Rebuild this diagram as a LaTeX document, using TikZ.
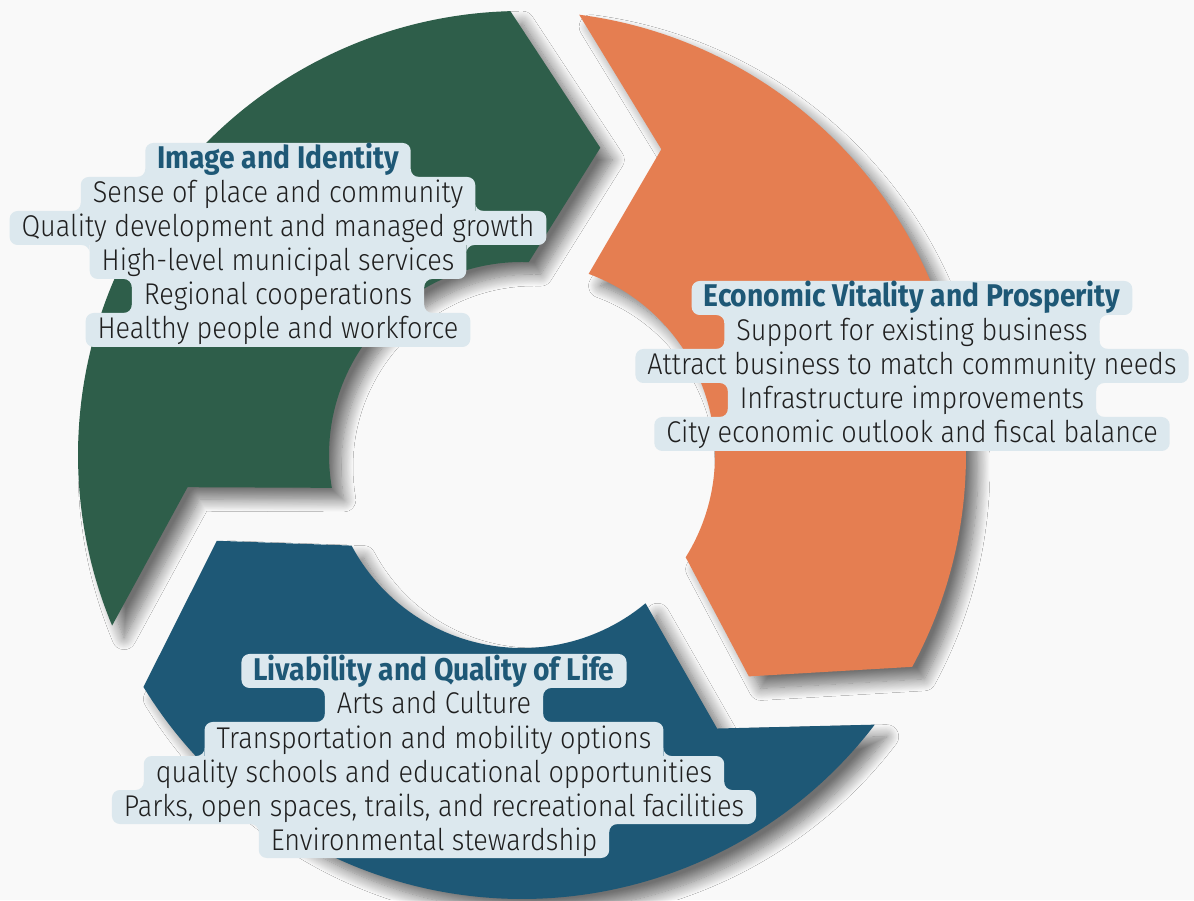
\documentclass[tikz,border=0pt]{standalone}
\usepackage{fontspec}
\IfFontExistsTF{Fira Sans Light}
  {\setmainfont{Fira Sans Light}[FakeStretch=0.9,BoldFont={Fira Sans Bold}]}
  {\setmainfont{Fira Sans}[FakeStretch=0.9]}
\usetikzlibrary{positioning,shadows.blur}

\definecolor{pagebg}{HTML}{F9F9F9}
\definecolor{idgreen}{HTML}{2E5E4A}
\definecolor{ecorange}{HTML}{E57E51}
\definecolor{livblue}{HTML}{1E5876}
\definecolor{tagfill}{HTML}{DCE8EE}
\definecolor{tagtitle}{HTML}{1E5876}

\tikzset{
  tag/.style={fill=tagfill, rounded corners=4pt, minimum height=17pt,
    inner xsep=6pt, inner ysep=0pt, outer sep=0pt,
    text height=12pt, text depth=3pt, text=black!88,
    font=\fontsize{15}{17}\selectfont},
  tagtop/.style={tag, text=tagtitle, font=\fontsize{15.7}{17}\selectfont\bfseries},
  arrowshadow/.style={blur shadow={shadow xshift=6pt, shadow yshift=-6pt,
    shadow blur radius=6pt, shadow blur steps=14, shadow opacity=55}}
}

\begin{document}
\begin{tikzpicture}[x=0.5pt,y=0.5pt]
\useasboundingbox (0,0) rectangle (1194,900);
\fill[pagebg] (0,0) rectangle (1194,900);

% the three bent arrows of the cycle
\begin{scope}[shift={(522,445)}]
\foreach \r/\c in {0/idgreen, 240/ecorange, 120/livblue}
  \fill[\c, arrowshadow] (202.6+\r:444)
    arc[start angle=202.6+\r, end angle=91.5+\r, radius=444]
    -- (75.7+\r:317) -- (88+\r:193)
    arc[start angle=88+\r, end angle=189.8+\r, radius=193]
    -- (185.5+\r:336) -- cycle;
\end{scope}

% image and identity
\node[tagtop] (identity) at (278,740) {Image and Identity};
\node[tag, below=0pt of identity] (identity1) {Sense of place and community};
\node[tag, below=0pt of identity1] (identity2) {Quality development and managed growth};
\node[tag, below=0pt of identity2] (identity3) {High-level municipal services};
\node[tag, below=0pt of identity3] (identity4) {Regional cooperations};
\node[tag, below=0pt of identity4] (identity5) {Healthy people and workforce};

% economic vitality
\node[tagtop] (economy) at (912,602) {Economic Vitality and Prosperity};
\node[tag, below=0pt of economy] (economy1) {Support for existing business};
\node[tag, below=0pt of economy1] (economy2) {Attract business to match community needs};
\node[tag, below=0pt of economy2] (economy3) {Infrastructure improvements};
\node[tag, below=0pt of economy3] (economy4) {City economic outlook and fiscal balance};

% livability
\node[tagtop] (livability) at (434,229) {Livability and Quality of Life};
\node[tag, below=0pt of livability] (livability1) {Arts and Culture};
\node[tag, below=0pt of livability1] (livability2) {Transportation and mobility options};
\node[tag, below=0pt of livability2] (livability3) {quality schools and educational opportunities};
\node[tag, below=0pt of livability3] (livability4) {Parks, open spaces, trails, and recreational facilities};
\node[tag, below=0pt of livability4] (livability5) {Environmental stewardship};

% inner fillets where a tag meets a wider one
\foreach \a/\b in {identity/identity1, identity1/identity2, identity4/identity5,
    economy1/economy2, economy3/economy4, livability1/livability2,
    livability2/livability3, livability3/livability4} {
  \fill[tagfill] (\a.south east) rectangle ++(-4pt,4pt);
  \fill[tagfill] (\a.south west) rectangle ++(4pt,4pt);
  \fill[tagfill] (\a.south east) -- ++(4pt,0) arc[start angle=270, end angle=180, radius=4pt] -- cycle;
  \fill[tagfill] (\a.south west) -- ++(-4pt,0) arc[start angle=270, end angle=360, radius=4pt] -- cycle;
}
\foreach \a/\b in {identity2/identity3, identity3/identity4, economy/economy1,
    economy2/economy3, livability/livability1, livability4/livability5} {
  \fill[tagfill] (\b.north east) rectangle ++(-4pt,-4pt);
  \fill[tagfill] (\b.north west) rectangle ++(4pt,-4pt);
  \fill[tagfill] (\b.north east) -- ++(4pt,0) arc[start angle=90, end angle=180, radius=4pt] -- cycle;
  \fill[tagfill] (\b.north west) -- ++(-4pt,0) arc[start angle=90, end angle=0, radius=4pt] -- cycle;
}
\end{tikzpicture}
\end{document}
